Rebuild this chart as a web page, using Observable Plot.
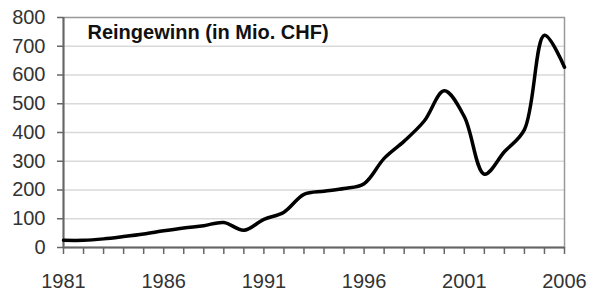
<!DOCTYPE html>
<html>
<head>
<meta charset="utf-8">
<script src="https://cdn.jsdelivr.net/npm/d3@7"></script>
<script src="https://cdn.jsdelivr.net/npm/@observablehq/plot@0.6"></script>
<style>
  html, body { margin: 0; padding: 0; background: #fff; }
  #chart svg { display: block; }
</style>
</head>
<body>
<div id="chart"></div>
<script>
const years = [1981, 1982, 1983, 1984, 1985, 1986, 1987, 1988, 1989, 1990, 1991, 1992, 1993,
               1994, 1995, 1996, 1997, 1998, 1999, 2000, 2001, 2002, 2003, 2004, 2005, 2006];
const profit = [25, 25, 30, 38, 47, 58, 68, 76, 87, 60, 98, 123, 185,
                196, 205, 222, 310, 370, 440, 545, 455, 255, 333, 410, 738, 627];
const xTickLabels = [1981, 1986, 1991, 1996, 2001, 2006];
const yTicks = [0, 100, 200, 300, 400, 500, 600, 700, 800];
const title = "Reingewinn (in Mio. CHF)";

const data = years.map((y, i) => ({year: y, value: profit[i]}));

const chart = Plot.plot({
  width: 590,
  height: 291,
  marginLeft: 63,
  marginRight: 26,
  marginTop: 17,
  marginBottom: 44,
  style: {fontFamily: "'Liberation Sans', Arial, sans-serif", fontSize: "20px", color: "#333", background: "#fff"},
  x: {domain: [1981, 2006], axis: null},
  y: {domain: [0, 800], axis: null},
  marks: [
    Plot.gridY(yTicks.filter(d => d > 0 && d < 800), {stroke: "#d9d9d9", strokeOpacity: 1, strokeWidth: 1.6}),
    Plot.frame({stroke: "#999", strokeWidth: 1.5}),
    Plot.axisY(yTicks, {label: null, tickSize: 6, tickPadding: 12, stroke: "#666", strokeWidth: 1.5, fill: "#333", fontSize: 20, tickFormat: d => String(d)}),
    Plot.axisX(years, {label: null, tickSize: 7, tickFormat: () => "", stroke: "#666", strokeWidth: 1.5}),
    Plot.axisX(xTickLabels, {label: null, tickSize: 0, tickPadding: 26, fill: "#333", fontSize: 20, tickFormat: d => String(d)}),
    Plot.ruleX([1981], {stroke: "#666", strokeWidth: 2}),
    Plot.ruleY([0], {stroke: "#666", strokeWidth: 2}),
    Plot.line(data, {x: "year", y: "value", stroke: "#000", strokeWidth: 3.5, curve: "catmull-rom"}),
    Plot.text([title], {frameAnchor: "top-left", dx: 24, dy: 7, lineAnchor: "top", textAnchor: "start", fontWeight: "bold", fontSize: 20, fill: "#111"})
  ]
});
document.getElementById("chart").appendChild(chart);
</script>
</body>
</html>
